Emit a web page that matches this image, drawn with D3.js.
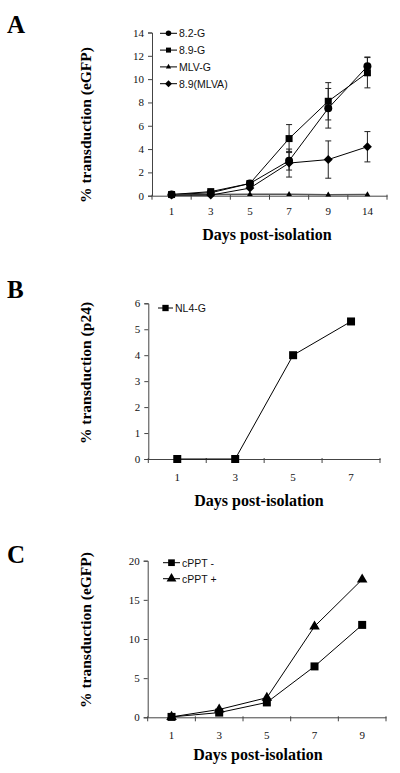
<!DOCTYPE html>
<html><head><meta charset="utf-8">
<script src="https://cdn.jsdelivr.net/npm/d3@7"></script>
<style>body{margin:0;background:#fff}</style>
</head><body><svg id="c" width="400" height="773"></svg>
<script>
// ---- data ----
const daysA = ["1","3","5","7","9","14"];
const yTicksA = [0,2,4,6,8,10,12,14];
const s82G    = [0.1,0.25,1.05,3.0,7.5,11.1];
const e82G    = [0,0,0,0.8,1.7,0.8];
const s89G    = [0.1,0.35,1.05,4.9,8.1,10.55];
const e89G    = [0,0,0,1.2,1.6,1.3];
const sMLVG   = [0.05,0.1,0.12,0.12,0.08,0.1];
const s89MLVA = [0.05,0.05,0.65,2.8,3.1,4.2];
const e89MLVA = [0,0,0,1.2,1.6,1.3];

const daysB = ["1","3","5","7"];
const yTicksB = [0,1,2,3,4,5,6];
const sNL4G = [0,0,4.0,5.3];

const daysC = ["1","3","5","7","9"];
const yTicksC = [0,5,10,15,20];
const sCPPTm = [0.05,0.6,1.9,6.5,11.8];
const sCPPTp = [0.05,1.0,2.5,11.6,17.6];

// ---- drawing ----
const svg = d3.select("#c");
const serif = "'Liberation Serif','Times New Roman',serif";
const sans = "'Liberation Sans',Arial,sans-serif";

function marker(g, type, x, y, size) {
  let sym, rot = 0;
  if (type === "circle") sym = d3.symbolCircle;
  else if (type === "square") sym = d3.symbolSquare;
  else if (type === "triangle") sym = d3.symbolTriangle;
  else { sym = d3.symbolSquare; rot = 45; }
  g.append("path")
    .attr("d", d3.symbol().type(sym).size(size)())
    .attr("transform", `translate(${x},${y}) rotate(${rot})`)
    .attr("fill", "#000");
}

function panel(p) {
  const g = svg.append("g");
  const x = d3.scaleBand().domain(p.cats).range([p.x0, p.x1]).padding(0);
  const y = d3.scaleLinear().domain([0, p.ymax]).range([p.y0, p.y1]);
  const cx = d => x(d) + x.bandwidth() / 2;

  // letter
  g.append("text").attr("x", 7).attr("y", p.letterY).text(p.letter)
    .attr("font-family", serif).attr("font-weight", "bold").attr("font-size", 25);

  // y axis
  const ya = g.append("g").attr("transform", `translate(${p.x0},0)`)
    .call(d3.axisLeft(y).tickValues(p.yticks).tickSize(4).tickPadding(4).tickFormat(d3.format("d")));
  ya.selectAll("path,line").attr("stroke", "#444");
  ya.selectAll("text").attr("font-family", serif).attr("font-size", 11).attr("fill", "#111");

  // x axis (labels) + boundary ticks
  const xa = g.append("g").attr("transform", `translate(0,${p.y0})`)
    .call(d3.axisBottom(x).tickSize(0).tickPadding(p.xpad).tickSizeOuter(0));
  xa.select("path").attr("stroke", "#444");
  xa.selectAll("text").attr("font-family", serif).attr("font-size", 11).attr("fill", "#111");
  const bounds = p.cats.map(d => x(d)).concat([p.x1]);
  g.selectAll(null).data(bounds).enter().append("line")
    .attr("x1", d => d).attr("x2", d => d).attr("y1", p.y0 - 1).attr("y2", p.y0 + 4)
    .attr("stroke", "#444");

  // titles
  g.append("text").attr("x", p.xtitleX).attr("y", p.xtitleY).attr("text-anchor", "middle")
    .text("Days post-isolation").attr("font-family", serif).attr("font-weight", "bold").attr("font-size", 16);
  g.append("text").attr("transform", `translate(91,${p.ytitleY}) rotate(-90)`).attr("text-anchor", "middle")
    .text(p.ytitle).attr("font-family", serif).attr("font-weight", "bold").attr("font-size", 15.5);

  // series
  const line = d3.line().x((d, i) => cx(p.cats[i])).y(d => y(d));
  p.series.forEach(s => {
    g.append("path").attr("d", line(s.v)).attr("fill", "none")
      .attr("stroke", s.color || "#000").attr("stroke-width", s.sw || 1);
    if (s.e) s.v.forEach((v, i) => {
      if (!s.e[i]) return;
      const X = cx(p.cats[i]);
      g.append("line").attr("x1", X).attr("x2", X).attr("y1", y(v - s.e[i])).attr("y2", y(v + s.e[i])).attr("stroke", "#222");
      [v - s.e[i], v + s.e[i]].forEach(t => g.append("line")
        .attr("x1", X - 3).attr("x2", X + 3).attr("y1", y(t)).attr("y2", y(t)).attr("stroke", "#222"));
    });
  });
  p.series.forEach(s => s.v.forEach((v, i) => marker(g, s.m, cx(p.cats[i]), y(v), s.size)));

  // legend
  p.series.forEach((s, i) => {
    const ly = p.legY + i * p.legDy;
    g.append("line").attr("x1", p.legX).attr("x2", p.legX + p.legW).attr("y1", ly).attr("y2", ly).attr("stroke", "#000");
    marker(g, s.m, p.legX + p.legW / 2, ly, s.lsize);
    g.append("text").attr("x", p.legX + p.legW + 2).attr("y", ly + 4).text(s.name)
      .attr("font-family", sans).attr("font-size", 10.5).attr("fill", "#111");
  });
}

panel({
  letter: "A", letterY: 33, cats: daysA, yticks: yTicksA, ymax: 14,
  x0: 152, x1: 387, y0: 195.7, y1: 32.5, xpad: 12,
  xtitleX: 267, xtitleY: 240, ytitle: "% transduction (eGFP)", ytitleY: 125,
  legX: 160, legW: 17, legY: 33.3, legDy: 16.8,
  series: [
    { name: "8.2-G", v: s82G, e: e82G, m: "circle", size: 50, lsize: 24 },
    { name: "8.9-G", v: s89G, e: e89G, m: "square", size: 49, lsize: 25 },
    { name: "MLV-G", v: sMLVG, m: "triangle", size: 14, lsize: 12, color: "#555", sw: 1.5 },
    { name: "8.9(MLVA)", v: s89MLVA, e: e89MLVA, m: "diamond", size: 40, lsize: 24 }
  ]
});

panel({
  letter: "B", letterY: 298, cats: daysB, yticks: yTicksB, ymax: 6,
  x0: 148.3, x1: 380, y0: 459, y1: 303.3, xpad: 14,
  xtitleX: 259, xtitleY: 506, ytitle: "% transduction (p24)", ytitleY: 373,
  legX: 158, legW: 15, legY: 308, legDy: 16,
  series: [
    { name: "NL4-G", v: sNL4G, m: "square", size: 64, lsize: 40 }
  ]
});

panel({
  letter: "C", letterY: 563, cats: daysC, yticks: yTicksC, ymax: 20,
  x0: 147.7, x1: 386, y0: 717.3, y1: 560.7, xpad: 14,
  xtitleX: 258, xtitleY: 760, ytitle: "% transduction (eGFP)", ytitleY: 630,
  legX: 163, legW: 17, legY: 562.7, legDy: 16,
  series: [
    { name: "cPPT -", v: sCPPTm, m: "square", size: 64, lsize: 45 },
    { name: "cPPT +", v: sCPPTp, m: "triangle", size: 48, lsize: 42 }
  ]
});
</script></body></html>
